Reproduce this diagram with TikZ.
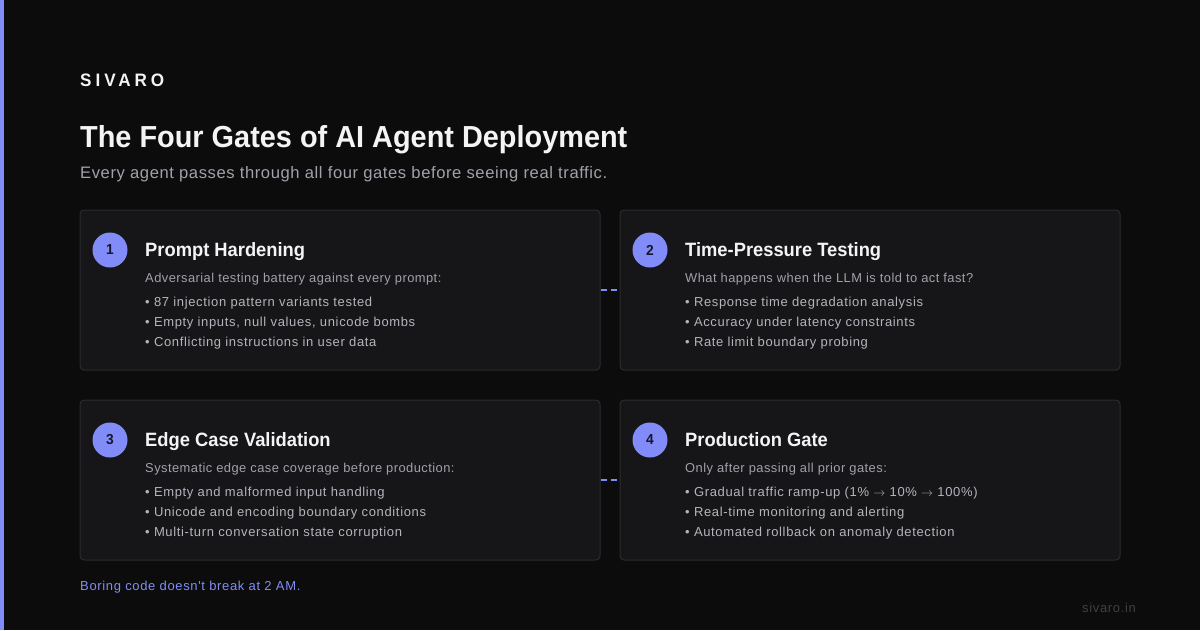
\documentclass[tikz,border=0pt]{standalone}
\usepackage{fontspec}
\setmainfont{Liberation Sans}[FakeStretch=0.95]
\newfontfamily\bodyfont{Liberation Sans}[LetterSpace=5]
\newfontfamily\descfont{Liberation Sans}[LetterSpace=3.5]
\usetikzlibrary{positioning}

\definecolor{bgdark}{HTML}{0C0C0D}
\definecolor{cardbg}{HTML}{161619}
\definecolor{cardline}{HTML}{2B2B30}
\definecolor{accent}{HTML}{818CF8}
\definecolor{headtxt}{HTML}{F4F4F5}
\definecolor{subtxt}{HTML}{A1A1AA}
\definecolor{itemtxt}{HTML}{B4B4BC}
\definecolor{numtxt}{HTML}{17172B}
\definecolor{urltxt}{HTML}{3F3F46}

\begin{document}
\begin{tikzpicture}[x=1pt, y=-1pt]

\tikzset{card/.style = {rectangle, rounded corners=4pt, draw=cardline, line width=1pt, fill=cardbg, minimum height=160pt}, }
\tikzset{badge/.style = {circle, fill=accent, minimum size=35pt, inner sep=0pt, text=numtxt, font=\fontsize{14.5}{16}\selectfont\bfseries}, }
\tikzset{txt/.style = {anchor=base west, inner sep=0pt}, }
\tikzset{gtitle/.style = {txt, text=headtxt, font=\fontsize{19.3}{22}\selectfont\bfseries}, }
\tikzset{gdesc/.style = {txt, text=subtxt, font=\descfont\fontsize{12.9}{15}\selectfont}, }
\tikzset{gitem/.style = {txt, text=itemtxt, font=\bodyfont\fontsize{13}{15}\selectfont}, }
\tikzstyle{link} = [accent, line width=2pt, dash pattern=on 6pt off 4pt]

% page
\useasboundingbox (0,0) rectangle (1200,630);
\fill[bgdark] (0,0) rectangle (1200,630);
\fill[accent] (0,0) rectangle (4,630);

% header
\node[txt, text=headtxt, font=\fontsize{18}{20}\selectfont\bfseries\addfontfeature{LetterSpace=22}] (brand) at (80,86.5) {SIVARO};
\node[txt, text=headtxt, font=\fontsize{30.4}{34}\selectfont\bfseries] (title) at (80,147.5) {The Four Gates of AI Agent Deployment};
\node[txt, text=subtxt, font=\descfont\fontsize{16.6}{20}\selectfont] (subtitle) at (80,178) {Every agent passes through all four gates before seeing real traffic.};

% gate 1
\node[card, minimum width=520pt] (g1) at (340,290) {};
\node[badge] (b1) at (110,250) {1};
\node[gtitle] (t1) at (145,256) {Prompt Hardening};
\node[gdesc] (d1) at (145,282) {Adversarial testing battery against every prompt:};
\node[gitem] (i11) at (145,306) {• 87 injection pattern variants tested};
\node[gitem] (i12) at (145,326) {• Empty inputs, null values, unicode bombs};
\node[gitem] (i13) at (145,346) {• Conflicting instructions in user data};

% gate 2
\node[card, minimum width=500pt] (g2) at (870,290) {};
\node[badge] (b2) at (650,250) {2};
\node[gtitle] (t2) at (685,256) {Time-Pressure Testing};
\node[gdesc] (d2) at (685,282) {What happens when the LLM is told to act fast?};
\node[gitem] (i21) at (685,306) {• Response time degradation analysis};
\node[gitem] (i22) at (685,326) {• Accuracy under latency constraints};
\node[gitem] (i23) at (685,346) {• Rate limit boundary probing};

% gate 3
\node[card, minimum width=520pt] (g3) at (340,480) {};
\node[badge] (b3) at (110,440) {3};
\node[gtitle] (t3) at (145,446) {Edge Case Validation};
\node[gdesc] (d3) at (145,472) {Systematic edge case coverage before production:};
\node[gitem] (i31) at (145,496) {• Empty and malformed input handling};
\node[gitem] (i32) at (145,516) {• Unicode and encoding boundary conditions};
\node[gitem] (i33) at (145,536) {• Multi-turn conversation state corruption};

% gate 4
\node[card, minimum width=500pt] (g4) at (870,480) {};
\node[badge] (b4) at (650,440) {4};
\node[gtitle] (t4) at (685,446) {Production Gate};
\node[gdesc] (d4) at (685,472) {Only after passing all prior gates:};
\node[gitem] (i41) at (685,496) {• Gradual traffic ramp-up (1\% $\rightarrow$ 10\% $\rightarrow$ 100\%)};
\node[gitem] (i42) at (685,516) {• Real-time monitoring and alerting};
\node[gitem] (i43) at (685,536) {• Automated rollback on anomaly detection};

\draw[link] (g1) -- (g2);
\draw[link] (g3) -- (g4);

% footer
\node[txt, text=accent, font=\bodyfont\fontsize{13}{15}\selectfont] (motto) at (80,590) {Boring code doesn't break at 2 AM.};
\node[txt, text=urltxt, font=\bodyfont\fontsize{13}{15}\selectfont] (url) at (1082,612) {sivaro.in};

\end{tikzpicture}
\end{document}
